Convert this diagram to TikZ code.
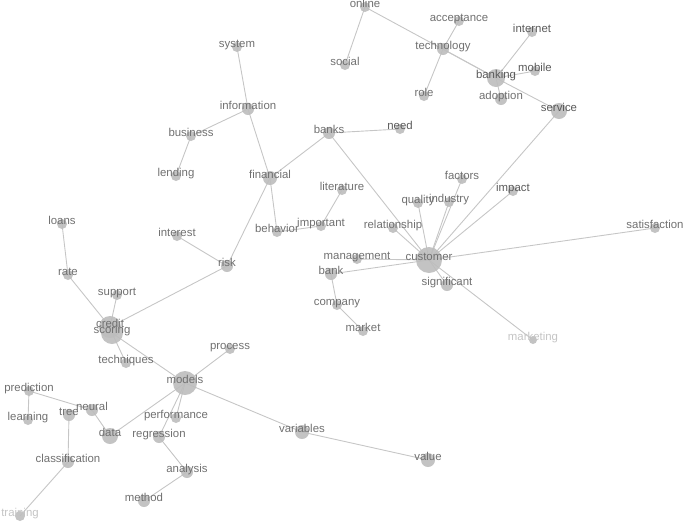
\documentclass[tikz,border=0pt]{standalone}
\usepackage{fontspec}
\setmainfont{Liberation Sans}
\pgfdeclarelayer{edges}
\pgfdeclarelayer{labels}
\pgfsetlayers{edges,main,labels}
\definecolor{dotc}{HTML}{BDBDBD}
\definecolor{edgec}{HTML}{C6C6C6}
\definecolor{txtc}{HTML}{707070}
\definecolor{txtd}{HTML}{5A5A5A}
\definecolor{txtl}{HTML}{C4C4C4}
\tikzset{
  dot/.style={circle,fill=dotc,fill opacity=0.9,draw=none,inner sep=0pt},
  lbl/.style={anchor=base,inner sep=0pt,text=txtc,font=\fontsize{11.4}{12}\selectfont},
  dark/.style={text=txtd},
  faint/.style={text=txtl},
  link/.style={draw=edgec,line width=0.9pt}
}
\newcommand\nd[6][]{%
  \node[dot,minimum size={2*#5pt}] (#2) at (#3,-#4) {};
  \begin{pgfonlayer}{labels}\node[lbl,#1] (#2-l) at (#3,-#4) {#6};\end{pgfonlayer}%
}
\newcommand\lk[2]{\begin{pgfonlayer}{edges}\draw[link] (#1.center) -- (#2.center);\end{pgfonlayer}}
\begin{document}
\begin{tikzpicture}[x=1pt,y=1pt]
\useasboundingbox (0,0) rectangle (685,-523);
% top cluster
\nd{online}{365}{7}{5}{online}
\nd{social}{345}{65}{5}{social}
\nd{acceptance}{459}{21}{5}{acceptance}
\nd{technology}{443}{49}{6}{technology}
\nd{role}{424}{96}{5}{role}
\nd[dark]{internet}{532}{32}{5}{internet}
\nd[dark]{banking}{496}{78}{9}{banking}
\nd[dark]{mobile}{535}{71}{5}{mobile}
\nd{adoption}{501}{99}{6}{adoption}
\nd[dark]{service}{559}{111}{8}{service}
% middle
\nd{system}{237}{47}{5}{system}
\nd{information}{248}{109}{6}{information}
\nd{business}{191}{136}{5}{business}
\nd{lending}{176}{176}{5}{lending}
\nd{financial}{270}{178}{7}{financial}
\nd{banks}{329}{133}{6}{banks}
\nd[dark]{need}{400}{129}{5}{need}
\nd{literature}{342}{190}{5}{literature}
\nd{important}{321}{226}{5}{important}
\nd{behavior}{277}{232}{5}{behavior}
\nd{relationship}{393}{228}{5}{relationship}
\nd{quality}{418}{203}{5}{quality}
\nd{industry}{449}{202}{5}{industry}
\nd{factors}{462}{179}{5}{factors}
\nd[dark]{impact}{513}{191}{5}{impact}
\nd{customer}{429}{260}{13}{customer}
\nd{satisfaction}{655}{228}{5}{satisfaction}
\nd{management}{357}{259}{5}{management}
\nd{bank}{331}{274}{6}{bank}
\nd{significant}{447}{285}{6}{significant}
\nd{company}{337}{305}{5}{company}
\nd{market}{363}{331}{5}{market}
\nd[faint]{marketing}{533}{340}{4}{marketing}
% left
\nd{loans}{62}{224}{5}{loans}
\nd{rate}{68}{275}{5}{rate}
\nd{interest}{177}{236}{5}{interest}
\nd{risk}{227}{266}{6}{risk}
\nd{support}{117}{295}{5}{support}
\nd{credit}{110}{327}{11}{credit}
\nd{scoring}{112}{333}{11}{scoring}
\nd{techniques}{126}{363}{5}{techniques}
\nd{process}{230}{349}{5}{process}
\nd{models}{185}{383}{12}{models}
\nd{prediction}{29}{391}{5}{prediction}
\nd{learning}{28}{420}{5}{learning}
\nd{tree}{69}{415}{6}{tree}
\nd{neural}{92}{410}{6}{neural}
\nd{data}{110}{436}{8}{data}
\nd{performance}{176}{418}{5}{performance}
\nd{regression}{159}{437}{6}{regression}
\nd{variables}{302}{432}{7}{variables}
\nd{value}{428}{460}{7}{value}
\nd{classification}{68}{462}{6}{classification}
\nd{analysis}{187}{472}{6}{analysis}
\nd{method}{144}{501}{6}{method}
\nd[faint]{training}{20}{516}{5}{training}
% edges
\lk{online}{social}
\lk{online}{banking}
\lk{technology}{banking}
\lk{technology}{acceptance}
\lk{technology}{role}
\lk{internet}{banking}
\lk{mobile}{banking}
\lk{adoption}{banking}
\lk{banking}{service}
\lk{service}{customer}
\lk{system}{information}
\lk{information}{business}
\lk{business}{lending}
\lk{information}{financial}
\lk{financial}{banks}
\lk{banks}{need}
\lk{banks}{customer}
\lk{financial}{behavior}
\lk{behavior}{important}
\lk{important}{literature}
\lk{financial}{risk}
\lk{risk}{interest}
\lk{risk}{credit}
\lk{relationship}{customer}
\lk{quality}{customer}
\lk{industry}{customer}
\lk{factors}{customer}
\lk{impact}{customer}
\lk{satisfaction}{customer}
\lk{management}{customer}
\lk{bank}{customer}
\lk{significant}{customer}
\lk{marketing}{customer}
\lk{bank}{company}
\lk{company}{market}
\lk{loans}{rate}
\lk{rate}{credit}
\lk{support}{credit}
\lk{scoring}{techniques}
\lk{scoring}{models}
\lk{models}{process}
\lk{models}{data}
\lk{models}{performance}
\lk{models}{regression}
\lk{models}{variables}
\lk{variables}{value}
\lk{regression}{analysis}
\lk{analysis}{method}
\lk{prediction}{learning}
\lk{prediction}{neural}
\lk{neural}{data}
\lk{tree}{classification}
\lk{classification}{training}
\end{tikzpicture}
\end{document}
